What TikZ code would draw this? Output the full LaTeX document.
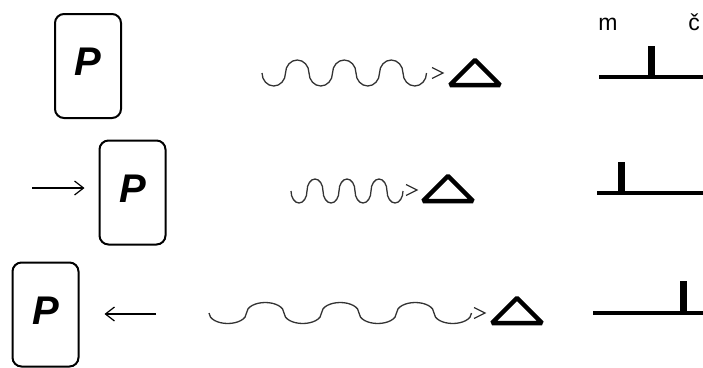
\documentclass[tikz,border=0pt]{standalone}
\usepackage{fontspec}
\setmainfont{Liberation Sans}
\usetikzlibrary{arrows.meta}

\begin{document}
\begin{tikzpicture}[
  x=1pt, y=-1pt,
  card/.style={rectangle, rounded corners=9pt, draw, line width=2pt,
    minimum width=66pt, minimum height=104pt, inner sep=0pt,
    font=\fontsize{40}{40}\selectfont\bfseries\itshape, text depth=8pt},
  push/.style={-{Straight Barb[length=9pt,width=14pt,line width=1.2pt]}, line width=2.2pt},
  wave/.style={line width=1.3pt, draw=black!80},
  chev/.style={line width=1.3pt, draw=black!80},
  tri/.style={line width=4.5pt, line join=bevel},
  lbl/.style={font=\fontsize{23}{23}\selectfont, anchor=base, inner sep=0pt},
  bar/.style={line width=3.5pt},
  tick/.style={line width=7pt}
]
\useasboundingbox (0,0) rectangle (703,367);

\node[card] (card1) at (88,66) {P};
\node[card] (card2) at (132.5,192.5) {P};
\node[card] (card3) at (45.5,314.5) {P};

\coordinate (a2) at (32,188);
\coordinate (a3) at (156,314);
\draw[push, shorten >=14pt] (a2) -- (a2 -| card2.west);
\draw[push, shorten >=25pt] (a3) -- (a3 -| card3.east);

\coordinate (w1) at (262,73);
\coordinate (w2) at (291,191);
\coordinate (w3) at (209,313);
\coordinate (c1) at (443,73);
\coordinate (c2) at (417,190);
\coordinate (c3) at (485,313);
\coordinate (t1) at (475,85);
\coordinate (t2) at (448,201);
\coordinate (t3) at (517,323);

\draw[wave, x radius=11.75, y radius=13] (w1) arc[start angle=180, end angle=0]
  \foreach \k in {1,2,3}{ arc[start angle=180, end angle=360] arc[start angle=180, end angle=0] };
\draw[wave, x radius=8, y radius=12] (w2) arc[start angle=180, end angle=0]
  \foreach \k in {1,2,3}{ arc[start angle=180, end angle=360] arc[start angle=180, end angle=0] };
\draw[wave, x radius=18.75, y radius=10.5] (w3) arc[start angle=180, end angle=0]
  \foreach \k in {1,2,3}{ arc[start angle=180, end angle=360] arc[start angle=180, end angle=0] };

\foreach \c in {c1,c2,c3}
  \draw[chev] (\c) ++(-11,-5.5) -- (\c) -- ++(-11,5.5);

\foreach \t in {t1,t2,t3}
  \draw[tri] (\t) ++(-25,0) -- ++(25,-25) -- ++(25,25) -- cycle;

\node[lbl] (m) at (608,30) {m};
\node[lbl] (c) at (694,30) {č};

\coordinate (s1) at (599,77);
\coordinate (s2) at (597,193);
\coordinate (s3) at (593,313);
\coordinate (k1) at (651,77);
\coordinate (k2) at (621,193);
\coordinate (k3) at (683,313);
\draw[bar] (s1) -- (s1 -| 703,0);
\draw[bar] (s2) -- (s2 -| 703,0);
\draw[bar] (s3) -- (s3 -| 703,0);
\draw[tick] (k1) -- ++(0,-31);
\draw[tick] (k2) -- ++(0,-31);
\draw[tick] (k3) -- ++(0,-32);

\end{tikzpicture}
\end{document}
